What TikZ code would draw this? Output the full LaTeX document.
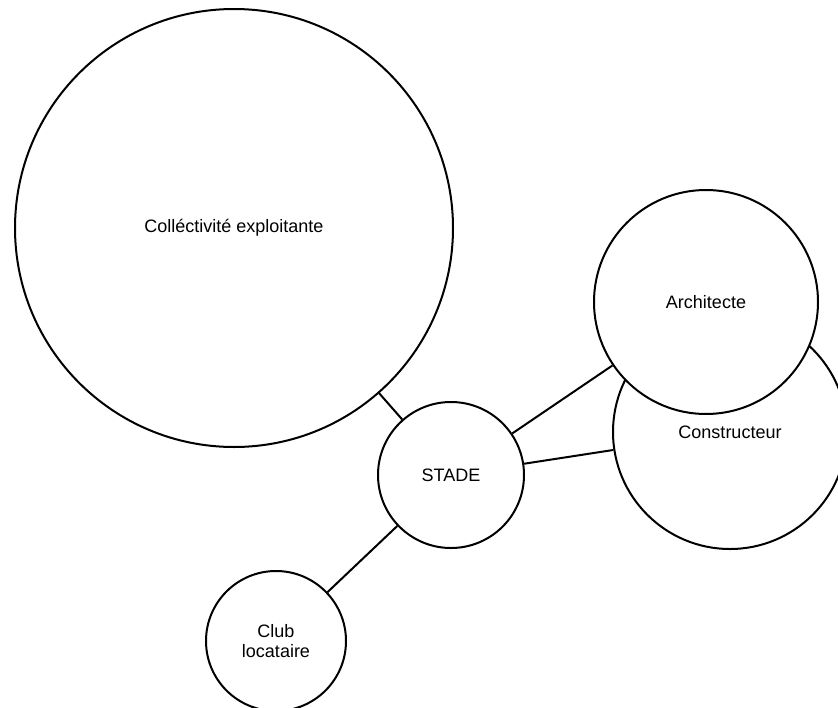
\documentclass[tikz,border=0pt]{standalone}
\usepackage{fontspec}
\setmainfont{Liberation Sans}
\begin{document}
\begin{tikzpicture}[x=1pt,y=-1pt,
  bub/.style={circle, draw, line width=2pt, fill=white, inner sep=0pt, align=center,
    font=\fontsize{18}{20}\selectfont},
  link/.style={line width=2pt}]
\useasboundingbox (0,0) rectangle (838,707);
\clip (0,0) rectangle (838,707);
\fill[white] (0,0) rectangle (838,707);
\node[bub, minimum size=438pt] (col) at (234,228) {Colléctivité exploitante};
\node[bub, minimum size=146pt] (stade) at (451,475) {STADE};
\node[bub, minimum size=140pt] (club) at (276,641) {Club\\locataire};
\node[bub, minimum size=234pt] (cons) at (730,432) {Constructeur};
\node[bub, minimum size=224pt] (arch) at (706,302) {Architecte};
\draw[link] (col) -- (stade);
\draw[link] (stade) -- (club);
\draw[link] (stade) -- (arch);
\draw[link] (stade) -- (cons);
\end{tikzpicture}
\end{document}
